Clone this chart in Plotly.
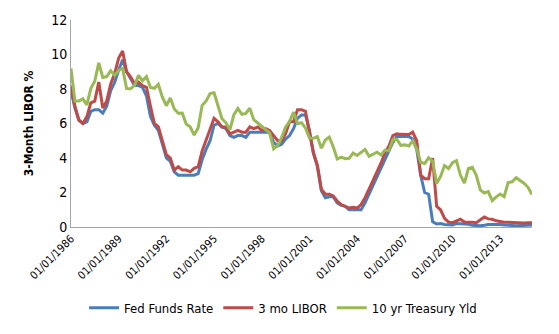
import plotly.graph_objects as go
import pandas as pd

dates = pd.date_range("1986-01-01", "2015-01-01", freq="QS")

fed_funds = [
    7.9, 6.9, 6.2, 6.0,
    6.1, 6.7, 6.8, 6.8,
    6.6, 7.0, 7.9, 8.4,
    9.1, 9.7, 9.0, 8.6,
    8.2, 8.2, 8.1, 7.6,
    6.4, 5.9, 5.6, 4.8,
    4.0, 3.8, 3.2, 3.0,
    3.0, 3.0, 3.0, 3.0,
    3.1, 3.9, 4.5, 5.0,
    5.9, 6.0, 5.8, 5.7,
    5.3, 5.2, 5.3, 5.3,
    5.2, 5.5, 5.5, 5.5,
    5.5, 5.5, 5.5, 4.9,
    4.7, 4.8, 5.1, 5.3,
    5.7, 6.3, 6.5, 6.5,
    5.6, 4.3, 3.5, 2.1,
    1.7, 1.75, 1.75, 1.4,
    1.25, 1.2, 1.0, 1.0,
    1.0, 1.0, 1.4, 1.9,
    2.4, 2.9, 3.4, 3.9,
    4.4, 4.9, 5.25, 5.25,
    5.25, 5.25, 5.1, 4.5,
    3.0, 2.0, 1.9, 0.3,
    0.18, 0.2, 0.15, 0.12,
    0.12, 0.2, 0.19, 0.19,
    0.16, 0.1, 0.08, 0.07,
    0.1, 0.15, 0.14, 0.16,
    0.14, 0.11, 0.08, 0.09,
    0.07, 0.09, 0.09, 0.1,
    0.11,
]

libor_3m = [
    8.2, 7.0, 6.2, 6.0,
    6.4, 7.2, 7.3, 8.4,
    6.9, 7.3, 8.3, 8.9,
    9.8, 10.2, 9.0, 8.7,
    8.3, 8.4, 8.2, 8.1,
    7.0, 6.0, 5.8, 5.0,
    4.2, 4.0, 3.3, 3.5,
    3.3, 3.3, 3.2, 3.4,
    3.5, 4.4, 5.0, 5.7,
    6.3, 6.1, 5.8, 5.8,
    5.4, 5.5, 5.6, 5.5,
    5.5, 5.8, 5.7, 5.8,
    5.6, 5.7, 5.6, 5.3,
    5.0, 5.0, 5.4, 6.1,
    6.1, 6.8, 6.8, 6.7,
    5.5, 4.3, 3.6, 2.2,
    1.9, 1.9, 1.8, 1.5,
    1.3, 1.2, 1.1, 1.15,
    1.1, 1.3, 1.7, 2.2,
    2.7, 3.2, 3.7, 4.3,
    4.7, 5.3, 5.4, 5.37,
    5.36, 5.36, 5.5, 5.0,
    3.0, 2.8, 2.8, 4.0,
    1.2, 1.0, 0.5, 0.28,
    0.25, 0.35, 0.45, 0.29,
    0.30, 0.27, 0.25, 0.4,
    0.58, 0.47, 0.45, 0.36,
    0.31, 0.28, 0.27, 0.25,
    0.24, 0.23, 0.23, 0.24,
    0.25,
]

treasury_10y = [
    9.19, 7.30, 7.30, 7.43,
    7.08, 8.02, 8.45, 9.52,
    8.67, 8.72, 9.06, 8.80,
    9.09, 9.18, 8.02, 8.01,
    8.21, 8.79, 8.47, 8.72,
    8.09, 8.04, 8.27, 7.53,
    7.03, 7.48, 6.84, 6.59,
    6.60, 5.97, 5.81, 5.33,
    5.75, 7.04, 7.30, 7.74,
    7.78, 7.06, 6.28, 6.04,
    5.65, 6.51, 6.87, 6.53,
    6.58, 6.89, 6.22, 6.03,
    5.81, 5.64, 5.46, 4.53,
    4.72, 5.18, 5.79, 6.11,
    6.66, 5.99, 6.05, 5.74,
    5.16, 5.14, 5.24, 4.57,
    5.04, 5.21, 4.65, 3.94,
    4.05, 3.96, 3.98, 4.29,
    4.15, 4.35, 4.50, 4.10,
    4.22, 4.34, 4.18, 4.46,
    4.42, 5.07, 5.09, 4.73,
    4.76, 4.69, 5.00, 4.53,
    3.74, 3.68, 4.01, 3.81,
    2.52, 2.93, 3.56, 3.39,
    3.73, 3.85, 3.01, 2.54,
    3.39, 3.46, 3.00, 2.15,
    1.97, 2.05, 1.53, 1.75,
    1.91, 1.76, 2.58, 2.62,
    2.86, 2.71, 2.54, 2.30,
    1.88,
]

tick_dates = ["1986-01-01", "1989-01-01", "1992-01-01", "1995-01-01", "1998-01-01",
              "2001-01-01", "2004-01-01", "2007-01-01", "2010-01-01", "2013-01-01"]
tick_labels = ["01/01/1986", "01/01/1989", "01/01/1992", "01/01/1995", "01/01/1998",
               "01/01/2001", "01/01/2004", "01/01/2007", "01/01/2010", "01/01/2013"]
y_ticks = [0, 2, 4, 6, 8, 10, 12]

series = [
    ("Fed Funds Rate", fed_funds, "#4A7EBB"),
    ("3 mo LIBOR", libor_3m, "#BE4B48"),
    ("10 yr Treasury Yld", treasury_10y, "#98B954"),
]

FONT = "DejaVu Sans Condensed, Roboto, sans-serif"

fig = go.Figure()
for name, vals, col in series:
    fig.add_trace(go.Scatter(x=dates, y=vals, mode="lines", name=name,
                             line=dict(color=col, width=3)))

fig.update_layout(
    width=559, height=334,
    margin=dict(l=71, r=27, t=17, b=103),
    paper_bgcolor="white", plot_bgcolor="white",
    font=dict(family=FONT, size=12, color="#000000"),
    showlegend=True,
    legend=dict(orientation="h", x=0.46, xanchor="center", y=-0.39, yanchor="middle",
                font=dict(family=FONT, size=13), traceorder="normal",
                itemwidth=30, tracegroupgap=0),
    xaxis=dict(range=["1986-01-01", "2015-01-01"], tickvals=tick_dates, ticktext=tick_labels,
               tickangle=-45, showgrid=False, showline=True, linecolor="#A6A6A6", linewidth=1,
               ticks="", tickfont=dict(family=FONT, size=11), zeroline=False),
    yaxis=dict(range=[0, 12], tickvals=y_ticks, showgrid=False, showline=True,
               linecolor="#A6A6A6", linewidth=1, ticks="", zeroline=False,
               tickfont=dict(family=FONT, size=14),
               title=dict(text="<b>3-Month LIBOR %</b>", font=dict(family=FONT, size=12), standoff=14)),
)

fig.write_html("out.html")
